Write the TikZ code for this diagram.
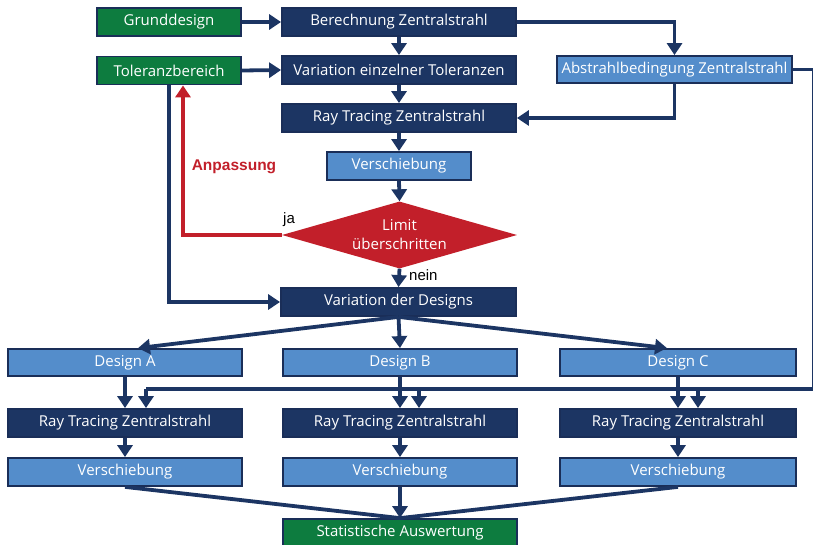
\documentclass[tikz,border=0pt]{standalone}
\usepackage{fontspec}
\setmainfont{Open Sans}
\newfontfamily\labfont{Liberation Sans}
\usetikzlibrary{arrows.meta,shapes.geometric,calc}
\definecolor{navy}{HTML}{1C3563}
\definecolor{edgec}{HTML}{1A2E58}
\definecolor{lblue}{HTML}{548DCB}
\definecolor{bgreen}{HTML}{0D7C3F}
\definecolor{bred}{HTML}{C21F2A}
\tikzset{
  box/.style={draw=edgec, line width=1.8pt, text=white, minimum height=28pt, inner sep=0pt, font=\fontsize{15}{17}\selectfont},
  darkbox/.style={box, fill=navy},
  lightbox/.style={box, fill=lblue},
  greenbox/.style={box, fill=bgreen},
  conn/.style={draw=navy, line width=3.8pt},
  arr/.style={conn, -{Triangle[width=15pt,length=12pt]}},
  redarr/.style={draw=bred, line width=3.8pt, -{Triangle[width=15pt,length=12pt]}},
  lab/.style={font=\labfont\fontsize{15}{17}\selectfont, text=black, inner sep=0pt}
}
\begin{document}
\begin{tikzpicture}[x=1pt,y=-1pt]
\useasboundingbox (0,0) rectangle (813,545);
\clip (0,0) rectangle (813,545);
% nodes
\node[greenbox, minimum width=144pt] (grund) at (169,22) {Grunddesign};
\node[greenbox, minimum width=144pt] (toler) at (169,70.5) {Toleranzbereich};
\node[darkbox, minimum width=234pt] (ber) at (399,22) {Berechnung Zentralstrahl};
\node[darkbox, minimum width=234pt] (vari) at (399,70) {Variation einzelner Toleranzen};
\node[darkbox, minimum width=234pt] (rt0) at (399,118) {Ray Tracing Zentralstrahl};
\node[lightbox, minimum width=235pt, minimum height=27pt] (abst) at (674.5,69.5) {Abstrahlbedingung Zentralstrahl};
\node[lightbox, minimum width=144pt] (ver0) at (399,166) {Verschiebung};
\node[diamond, fill=bred, draw=none, minimum width=235pt, minimum height=67pt, inner sep=0pt, aspect=3.5, text=white, align=center, font=\fontsize{15}{19}\selectfont] (dia) at (399.5,235) {Limit\\überschritten};
\node[darkbox, minimum width=235pt] (vdd) at (398.5,302) {Variation der Designs};
\node[lightbox, minimum width=234pt, minimum height=27pt] (dA) at (125,362.5) {Design A};
\node[lightbox, minimum width=234pt, minimum height=27pt] (dB) at (400,362.5) {Design B};
\node[lightbox, minimum width=236pt, minimum height=27pt] (dC) at (678,362.5) {Design C};
\node[darkbox, minimum width=234pt] (rA) at (125,423) {Ray Tracing Zentralstrahl};
\node[darkbox, minimum width=234pt] (rB) at (400,423) {Ray Tracing Zentralstrahl};
\node[darkbox, minimum width=236pt] (rC) at (678,423) {Ray Tracing Zentralstrahl};
\node[lightbox, minimum width=234pt] (vA) at (125,472) {Verschiebung};
\node[lightbox, minimum width=234pt] (vB) at (400,472) {Verschiebung};
\node[lightbox, minimum width=236pt] (vC) at (678,472) {Verschiebung};
\node[greenbox, minimum width=234pt] (stat) at (400,533) {Statistische Auswertung};
% labels
\node[lab, anchor=west] (ja) at (283,220) {ja};
\node[lab, anchor=west] (nein) at (409,275) {nein};
\node[font=\labfont\bfseries\fontsize{15.5}{17}\selectfont, text=bred, inner sep=0pt] (anp) at (234,167) {Anpassung};
% coordinates
\coordinate (cR) at (813.5,389);
\coordinate (cL) at (146,389);
\coordinate (cB) at (419,389);
\coordinate (cC) at (698,389);
\coordinate (redx) at (183,0);
% connectors
\draw[arr] (grund.east) -- (ber.west);
\draw[arr] (toler.east) -- (vari.west);
\draw[arr] (ber.south) -- (vari.north);
\draw[arr] (vari.south) -- (rt0.north);
\draw[arr] (rt0.south) -- (ver0.north);
\draw[arr] (ver0.south) -- (dia.north);
\draw[arr] (dia.south) -- (vdd.north);
\draw[arr] (ber.east) -| (abst.north);
\draw[arr] (abst.south) |- (rt0.east);
\draw[conn] (abst.east) -| (cR) -- (cL);
\draw[redarr] (dia.west) -| (redx |- toler.south);
\draw[arr] (toler.south) |- (vdd.west);
\draw[arr] (vdd.south) -- ($(dA.north)+(13,0)$);
\draw[arr] (vdd.south) -- (dB.north);
\draw[arr] (vdd.south) -- ($(dC.north)+(-11,0)$);
\draw[arr] (dA.south) -- (rA.north);
\draw[arr] (dB.south) -- (rB.north);
\draw[arr] (dC.south) -- (rC.north);
\draw[arr] (cL) -- (cL |- rA.north);
\draw[arr] (cB) -- (cB |- rB.north);
\draw[arr] (cC) -- (cC |- rC.north);
\draw[arr] (rA.south) -- (vA.north);
\draw[arr] (rB.south) -- (vB.north);
\draw[arr] (rC.south) -- (vC.north);
\draw[conn] (vA.south) -- (stat.north);
\draw[conn] (vC.south) -- (stat.north);
\draw[arr] (vB.south) -- (stat.north);
\end{tikzpicture}
\end{document}
